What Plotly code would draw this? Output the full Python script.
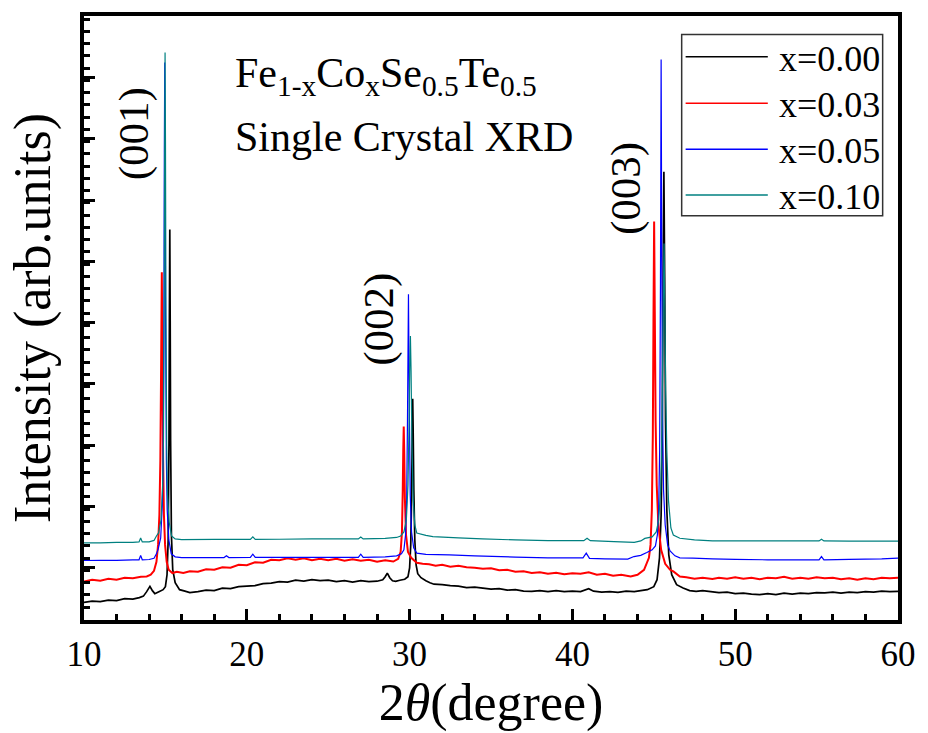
import plotly.graph_objects as go

# XRD scans of Fe(1-x)Co(x)Se0.5Te0.5 single crystals, (2theta in degree, intensity in arb. units)
scan_x000 = [
    (10.0, 17.3), (10.5, 18.5), (11.0, 18.0), (11.5, 19.5), (12.0, 19.0), (12.5, 21.0),
    (13.0, 20.5), (13.4, 22.0), (13.65, 23.5), (13.85, 28.0), (14.05, 33.3), (14.2, 29.0),
    (14.35, 26.0), (14.6, 28.0), (14.86, 30.0), (15.0, 33.0), (15.1, 45.0), (15.17, 80.0),
    (15.22, 180.0), (15.245, 300.0), (15.27, 392.0), (15.295, 300.0), (15.32, 180.0),
    (15.37, 85.0), (15.45, 50.0), (15.6, 37.0), (15.87, 30.0), (16.2, 28.5), (16.5, 27.0),
    (17.0, 28.0), (17.5, 29.5), (18.0, 29.0), (18.5, 31.5), (19.0, 31.0), (19.5, 33.0),
    (20.0, 33.5), (20.5, 34.0), (21.0, 36.0), (21.5, 36.5), (22.0, 38.0), (22.5, 37.5),
    (23.0, 39.5), (23.5, 38.5), (24.0, 40.0), (24.5, 39.0), (25.0, 39.5), (25.5, 38.0),
    (26.0, 39.0), (26.5, 37.5), (27.0, 39.0), (27.5, 38.0), (28.0, 38.5), (28.35, 40.0),
    (28.5, 43.0), (28.63, 46.7), (28.78, 42.0), (28.95, 39.0), (29.14, 38.3), (29.4, 39.5),
    (29.7, 40.5), (29.9, 43.0), (30.0, 52.0), (30.07, 75.0), (30.12, 120.0), (30.16, 185.0),
    (30.19, 222.0), (30.22, 188.0), (30.26, 130.0), (30.32, 80.0), (30.4, 55.0), (30.5, 46.0),
    (30.7, 42.0), (31.0, 39.0), (31.25, 37.0), (31.5, 35.5), (32.0, 35.0), (32.5, 34.0),
    (33.0, 33.5), (33.5, 32.0), (34.0, 32.5), (34.5, 31.5), (35.0, 30.5), (35.5, 31.0),
    (36.0, 29.5), (36.5, 30.0), (37.0, 28.5), (37.5, 28.3), (38.0, 29.0), (38.5, 28.0),
    (39.0, 29.0), (39.5, 28.0), (40.0, 28.5), (40.5, 28.0), (41.0, 31.0), (41.3, 28.5),
    (41.8, 27.5), (42.3, 28.0), (42.8, 27.3), (43.3, 28.5), (43.8, 28.0), (44.2, 29.0),
    (44.6, 30.0), (45.0, 33.0), (45.2, 40.0), (45.35, 62.0), (45.45, 105.0), (45.52, 190.0),
    (45.57, 340.0), (45.62, 450.0), (45.67, 340.0), (45.72, 200.0), (45.8, 110.0),
    (45.92, 65.0), (46.1, 45.0), (46.4, 35.0), (46.8, 31.7), (47.2, 29.0), (47.6, 28.3),
    (48.0, 29.0), (48.5, 28.0), (49.0, 27.0), (49.5, 27.5), (50.0, 26.0), (50.5, 26.5),
    (51.0, 25.5), (51.5, 25.0), (52.0, 26.0), (52.5, 25.0), (53.0, 26.5), (53.5, 25.5),
    (54.0, 26.5), (54.5, 26.0), (55.0, 27.0), (55.5, 26.7), (56.0, 27.5), (56.5, 26.5),
    (57.0, 27.5), (57.5, 27.0), (58.0, 28.0), (58.5, 27.5), (59.0, 28.5), (59.5, 28.0),
    (60.0, 28.3),
]

scan_x003 = [
    (10.0, 38.3), (10.5, 40.0), (11.0, 39.0), (11.5, 41.0), (12.0, 40.0), (12.5, 42.0),
    (13.0, 41.5), (13.5, 43.0), (13.85, 43.3), (14.1, 45.0), (14.3, 49.0), (14.45, 58.0),
    (14.55, 75.0), (14.63, 105.0), (14.69, 160.0), (14.74, 260.0), (14.78, 349.0),
    (14.82, 255.0), (14.86, 160.0), (14.91, 105.0), (14.98, 75.0), (15.08, 58.0),
    (15.2, 50.0), (15.43, 46.7), (15.7, 48.0), (16.1, 46.7), (16.5, 48.5), (17.0, 48.0),
    (17.5, 50.5), (18.0, 50.0), (18.5, 52.5), (19.0, 52.0), (19.5, 55.0), (20.0, 54.5),
    (20.5, 57.5), (21.0, 57.0), (21.5, 60.0), (22.0, 59.5), (22.5, 61.5), (23.0, 60.0),
    (23.5, 61.5), (24.0, 59.5), (24.5, 61.0), (25.0, 59.5), (25.5, 61.0), (26.0, 59.0),
    (26.5, 60.5), (27.0, 59.0), (27.5, 60.0), (28.0, 58.0), (28.5, 59.5), (29.0, 58.3),
    (29.3, 61.0), (29.45, 68.0), (29.53, 88.0), (29.58, 130.0), (29.61, 170.0),
    (29.64, 194.0), (29.67, 168.0), (29.71, 122.0), (29.78, 85.0), (29.9, 68.0),
    (30.1, 62.0), (30.44, 57.0), (30.8, 56.0), (31.2, 55.5), (31.6, 54.0), (32.0, 55.0),
    (32.5, 53.0), (33.0, 54.0), (33.5, 52.5), (34.0, 52.0), (34.5, 51.0), (35.0, 51.5),
    (35.5, 49.5), (36.0, 50.0), (36.5, 48.0), (37.0, 48.5), (37.5, 46.7), (38.0, 47.5),
    (38.5, 46.0), (39.0, 47.0), (39.5, 45.5), (40.0, 46.5), (40.5, 46.0), (41.0, 47.5),
    (41.5, 45.0), (42.0, 46.0), (42.5, 44.0), (43.0, 45.0), (43.58, 43.3), (44.0, 45.0),
    (44.4, 50.0), (44.7, 62.0), (44.8, 75.0), (44.88, 110.0), (44.94, 185.0), (44.98, 300.0),
    (45.02, 400.0), (45.06, 310.0), (45.11, 200.0), (45.18, 135.0), (45.28, 95.0),
    (45.45, 70.0), (45.7, 56.0), (46.0, 50.0), (46.2, 48.3), (46.6, 43.3), (47.0, 42.5),
    (47.5, 41.0), (48.0, 42.0), (48.6, 40.7), (49.0, 42.0), (49.5, 41.0), (50.0, 42.5),
    (50.5, 41.0), (51.0, 42.0), (51.5, 40.5), (52.0, 42.0), (52.5, 41.5), (53.0, 43.0),
    (53.5, 41.0), (54.0, 42.0), (54.5, 41.0), (55.0, 42.5), (55.5, 41.5), (56.0, 42.0),
    (56.5, 40.5), (57.0, 41.5), (57.5, 40.0), (58.0, 41.5), (58.5, 40.5), (59.0, 42.0),
    (59.5, 41.5), (60.0, 42.0),
]

scan_x005 = [
    (10.0, 59.3), (11.0, 59.5), (12.0, 59.5), (13.0, 60.0), (13.38, 60.0), (13.48, 64.5),
    (13.58, 60.0), (14.0, 60.3), (14.3, 61.5), (14.45, 66.0), (14.56, 71.0), (14.71, 82.0),
    (14.81, 115.0), (14.86, 160.0), (14.91, 310.0), (14.935, 470.0), (14.96, 560.0),
    (14.985, 470.0), (15.01, 305.0), (15.06, 160.0), (15.11, 110.0), (15.21, 80.0),
    (15.36, 66.0), (15.6, 63.0), (16.0, 62.3), (17.0, 62.3), (18.6, 62.3), (18.75, 64.0),
    (18.9, 62.3), (20.22, 62.5), (20.37, 65.7), (20.52, 62.5), (22.0, 62.5), (24.0, 62.5),
    (26.0, 62.5), (26.85, 62.5), (27.0, 65.7), (27.15, 62.5), (28.5, 63.0), (29.2, 64.0),
    (29.5, 66.0), (29.65, 70.0), (29.75, 85.0), (29.82, 120.0), (29.87, 200.0),
    (29.93, 327.0), (29.99, 200.0), (30.04, 125.0), (30.12, 88.0), (30.25, 72.0),
    (30.44, 66.7), (31.0, 65.5), (32.44, 65.0), (34.0, 64.0), (36.5, 62.7), (38.5, 62.0),
    (40.65, 62.0), (40.85, 66.7), (41.05, 61.5), (42.0, 61.0), (43.4, 60.7), (43.78, 63.3),
    (44.2, 64.5), (44.57, 67.3), (44.9, 70.0), (45.1, 74.0), (45.22, 85.0), (45.3, 110.0),
    (45.36, 170.0), (45.41, 340.0), (45.45, 563.0), (45.49, 360.0), (45.54, 200.0),
    (45.6, 130.0), (45.7, 95.0), (45.85, 75.0), (46.0, 69.0), (46.3, 64.0), (46.6, 62.0),
    (47.4, 61.7), (48.6, 61.0), (50.0, 60.5), (52.0, 60.0), (54.0, 60.0), (55.15, 60.0),
    (55.3, 63.3), (55.45, 60.0), (57.0, 60.5), (59.0, 61.0), (60.0, 61.7),
]

scan_x010 = [
    (10.0, 77.0), (11.0, 77.0), (12.0, 77.5), (13.0, 77.5), (13.38, 78.0), (13.48, 82.0),
    (13.58, 78.0), (14.0, 78.0), (14.3, 79.5), (14.45, 84.0), (14.58, 87.0), (14.73, 100.0),
    (14.83, 135.0), (14.88, 180.0), (14.93, 330.0), (14.955, 480.0), (14.98, 570.0),
    (15.005, 480.0), (15.03, 325.0), (15.08, 175.0), (15.13, 125.0), (15.23, 98.0),
    (15.38, 84.0), (15.6, 81.0), (16.0, 80.3), (18.0, 80.5), (20.22, 80.5), (20.37, 83.0),
    (20.52, 80.5), (22.0, 80.7), (24.0, 81.0), (26.0, 81.0), (26.85, 81.0), (27.0, 83.0),
    (27.15, 81.0), (28.5, 81.5), (29.2, 82.5), (29.45, 84.0), (29.65, 88.0), (29.8, 100.0),
    (29.9, 135.0), (29.97, 200.0), (30.01, 255.0), (30.05, 285.0), (30.09, 250.0),
    (30.14, 180.0), (30.22, 120.0), (30.32, 95.0), (30.44, 87.0), (31.0, 84.5),
    (31.43, 83.3), (33.0, 82.0), (34.47, 81.0), (36.5, 80.0), (38.5, 79.3), (40.7, 79.3),
    (40.9, 81.7), (41.1, 79.3), (42.56, 78.3), (43.8, 77.5), (44.2, 79.0), (44.45, 81.5),
    (44.9, 83.0), (45.15, 88.0), (45.3, 100.0), (45.42, 130.0), (45.5, 190.0),
    (45.57, 300.0), (45.63, 378.0), (45.68, 310.0), (45.73, 230.0), (45.8, 170.0),
    (45.9, 120.0), (46.05, 92.0), (46.2, 85.0), (46.6, 81.7), (47.5, 80.0), (48.6, 79.0),
    (50.0, 79.0), (52.0, 79.0), (54.0, 79.0), (55.15, 79.0), (55.3, 80.7), (55.45, 79.0),
    (57.0, 78.7), (60.0, 78.7),
]

series_labels = ["x=0.00", "x=0.03", "x=0.05", "x=0.10"]
series_scans = [scan_x000, scan_x003, scan_x005, scan_x010]
series_colors = ["#000000", "#ff0000", "#0000ff", "#008080"]
series_widths = [1.7, 2.0, 1.2, 1.2]

peak_labels = ["(001)", "(002)", "(003)"]

FONT = "Liberation Serif, Times New Roman, serif"

fig = go.Figure()
for label, scan, color, width in zip(series_labels, series_scans, series_colors, series_widths):
    fig.add_trace(go.Scatter(
        x=[p[0] for p in scan],
        y=[p[1] for p in scan],
        mode="lines",
        name=label,
        showlegend=False,
        line=dict(color=color, width=width, simplify=False),
    ))

axis_common = dict(
    showgrid=False,
    zeroline=False,
    showline=True,
    linecolor="black",
    linewidth=3.5,
    mirror=True,
    ticks="inside",
    tickcolor="black",
    tickwidth=3,
)

fig.update_xaxes(
    **axis_common,
    range=[10, 60],
    tick0=10,
    dtick=10,
    ticklen=11,
    minor=dict(ticks="inside", dtick=2, ticklen=6, tickwidth=2.5, tickcolor="black"),
    tickfont=dict(family=FONT, size=35, color="black"),
    title=dict(text="2<i>θ</i>(degree)", font=dict(family=FONT, size=52, color="black"), standoff=6),
)

fig.update_yaxes(
    **axis_common,
    range=[-0.5, 606.7],
    tick0=52,
    dtick=61.6,
    ticklen=11,
    showticklabels=False,
    minor=dict(ticks="inside", dtick=12.32, ticklen=6, tickwidth=2.5, tickcolor="black"),
    title=dict(text="Intensity (arb.units)", font=dict(family=FONT, size=52, color="black"), standoff=14),
)


def py(pix):
    """Vertical page pixel -> paper fraction of the plot area."""
    return (620.5 - pix) / 607.2


def px(pix):
    """Horizontal page pixel -> paper fraction of the plot area."""
    return (pix - 84.3) / 822.2


annotations = [
    dict(text="Fe<sub>1-x</sub>Co<sub>x</sub>Se<sub>0.5</sub>Te<sub>0.5</sub>",
         x=px(235), y=py(74), xanchor="left", yanchor="middle", font=dict(size=42)),
    dict(text="Single Crystal XRD",
         x=px(235), y=py(135), xanchor="left", yanchor="middle", font=dict(size=42)),
]
for label, cx, cy in zip(peak_labels, [135, 382, 632], [132, 318, 187]):
    annotations.append(dict(text=label, x=px(cx), y=py(cy), xanchor="center", yanchor="middle",
                            textangle=-90, font=dict(size=43)))

# legend drawn as a boxed key: line samples plus labels
legend_rows = [54.3, 101.0, 147.3, 193.3]
shapes = [dict(type="rect", xref="paper", yref="paper",
               x0=px(688), x1=px(891), y0=py(214), y1=py(32),
               line=dict(color="#333333", width=1.5), fillcolor="white", layer="above")]
for label, color, row in zip(series_labels, series_colors, legend_rows):
    shapes.append(dict(type="line", xref="paper", yref="paper",
                       x0=px(692), x1=px(775), y0=py(row), y1=py(row),
                       line=dict(color=color, width=1.5), layer="above"))
    annotations.append(dict(text=label, x=px(784), y=py(row + 2), xanchor="left",
                            yanchor="middle", font=dict(size=36)))

for a in annotations:
    a.update(xref="paper", yref="paper", showarrow=False)
    a["font"].update(family=FONT, color="black")

fig.update_layout(
    width=928,
    height=733,
    margin=dict(l=84, r=21, t=13, b=113),
    paper_bgcolor="white",
    plot_bgcolor="white",
    font=dict(family=FONT, color="black"),
    annotations=annotations,
    shapes=shapes,
    showlegend=False,
)

fig.write_html("out.html")
